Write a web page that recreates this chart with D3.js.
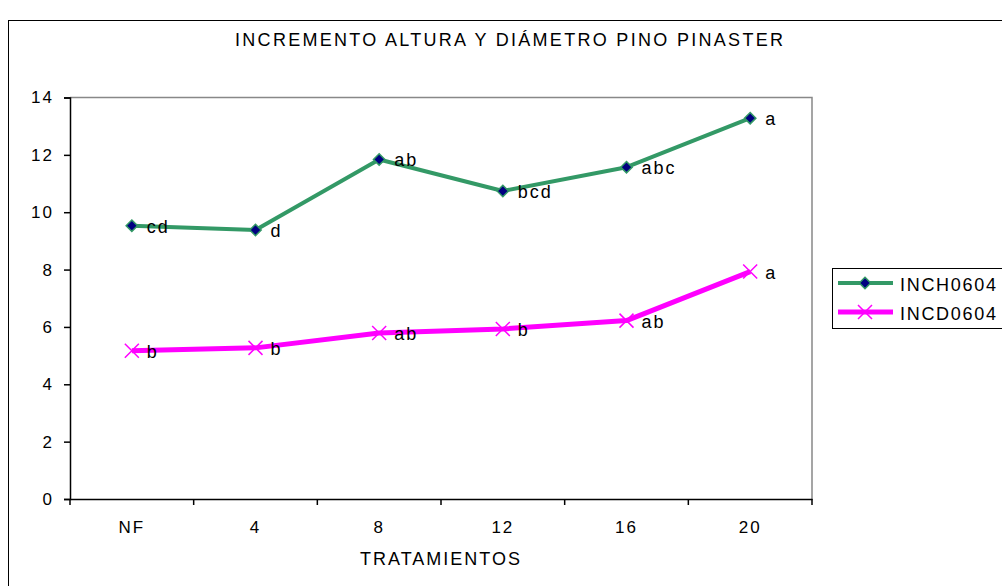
<!DOCTYPE html>
<html><head><meta charset="utf-8">
<script src="https://cdn.jsdelivr.net/npm/d3@7"></script>
<style>
html,body{margin:0;padding:0;background:#fff;}
svg{display:block;font-family:"Liberation Sans",Arial,sans-serif;}
</style></head>
<body>
<svg id="chart" width="1002" height="586"></svg>
<script>
const categories = ["NF","4","8","12","16","20"];
const inch0604 = [9.53, 9.38, 11.84, 10.74, 11.57, 13.28];
const incd0604 = [5.17, 5.27, 5.79, 5.93, 6.22, 7.93];
const inchLabels = ["cd","d","ab","bcd","abc","a"];
const incdLabels = ["b","b","ab","b","ab","a"];
const yTicks = [0,2,4,6,8,10,12,14];
const seriesNames = ["INCH0604","INCD0604"];

const svg = d3.select("#chart");
const L = 70, R = 812, T = 97.5, B = 499;

// outer chart border
svg.append("rect").attr("x",8.5).attr("y",20.5).attr("width",1100).attr("height",700)
  .attr("fill","none").attr("stroke","#000").attr("stroke-width",1);

const x = d3.scaleBand().domain(categories).range([L,R]);
const y = d3.scaleLinear().domain([0,14]).range([B,T]);

// plot border top & right (gray)
svg.append("path").attr("d",`M${L},${T}H${R}V${B}`).attr("fill","none")
  .attr("stroke","#888").attr("stroke-width",1.5);

// y axis
const yAxis = svg.append("g").attr("transform",`translate(${L},0)`)
  .call(d3.axisLeft(y).tickValues(yTicks).tickSize(6).tickPadding(10));
yAxis.selectAll("text").attr("font-size",17).attr("letter-spacing",2).attr("fill","#000")
  .attr("font-family","Liberation Sans, Arial, sans-serif");
yAxis.selectAll("line,path").attr("stroke","#000").attr("stroke-width",1.5);

// x axis
const xAxis = svg.append("g").attr("transform",`translate(0,${B})`)
  .call(d3.axisBottom(x).tickSize(0).tickPadding(21.5));
xAxis.selectAll("text").attr("font-size",17).attr("letter-spacing",2).attr("fill","#000")
  .attr("font-family","Liberation Sans, Arial, sans-serif");
xAxis.select("path").attr("stroke","#000").attr("stroke-width",1.5);
// boundary ticks between categories
const bounds = categories.map(c=>x(c)).concat([R]);
svg.append("g").selectAll("line").data(bounds).join("line")
  .attr("x1",d=>d).attr("x2",d=>d).attr("y1",B).attr("y2",B+6)
  .attr("stroke","#000").attr("stroke-width",1.5);

const cx = c => x(c) + x.bandwidth()/2;
const line = d3.line().x((d,i)=>cx(categories[i])).y(d=>y(d));

const green = "#339966", pink = "#ff00ff";

svg.append("path").datum(inch0604).attr("d",line).attr("fill","none")
  .attr("stroke",green).attr("stroke-width",4).attr("stroke-linejoin","round");
svg.append("path").datum(incd0604).attr("d",line).attr("fill","none")
  .attr("stroke",pink).attr("stroke-width",5).attr("stroke-linejoin","round");

const diamond = (g,px,py)=>g.append("path")
  .attr("d",`M${px},${py-5.7}L${px+5.7},${py}L${px},${py+5.7}L${px-5.7},${py}Z`)
  .attr("fill","#000080").attr("stroke",green).attr("stroke-width",1.5);
const cross = (g,px,py)=>g.append("path")
  .attr("d",`M${px-7},${py-7}L${px+7},${py+7}M${px-7},${py+7}L${px+7},${py-7}`)
  .attr("stroke",pink).attr("stroke-width",1.5).attr("fill","none");

const mk = svg.append("g");
inch0604.forEach((v,i)=>diamond(mk,cx(categories[i]),y(v)));
incd0604.forEach((v,i)=>cross(mk,cx(categories[i]),y(v)));

const lab = svg.append("g").attr("font-size",18).attr("letter-spacing",2).attr("fill","#000");
inch0604.forEach((v,i)=>lab.append("text").attr("x",cx(categories[i])+15).attr("y",y(v)+7).text(inchLabels[i]));
incd0604.forEach((v,i)=>lab.append("text").attr("x",cx(categories[i])+15).attr("y",y(v)+7).text(incdLabels[i]));

// title
svg.append("text").attr("x",509).attr("y",46).attr("text-anchor","middle")
  .attr("font-size",18).attr("fill","#000")
  .attr("textLength",548).attr("lengthAdjust","spacing")
  .text("INCREMENTO ALTURA Y DIÁMETRO PINO PINASTER");
// x axis title
svg.append("text").attr("x",441).attr("y",565).attr("text-anchor","middle")
  .attr("font-size",18).attr("letter-spacing",2).attr("fill","#000").text("TRATAMIENTOS");

// legend
const lg = svg.append("g");
lg.append("rect").attr("x",832.5).attr("y",268.5).attr("width",200).attr("height",60)
  .attr("fill","#fff").attr("stroke","#000").attr("stroke-width",1);
[0,1].forEach(i=>{
  const ly = 283 + i*29;
  lg.append("line").attr("x1",838).attr("x2",893).attr("y1",ly).attr("y2",ly)
    .attr("stroke",i===0?green:pink).attr("stroke-width",i===0?4:5);
  if(i===0) diamond(lg,865,ly); else cross(lg,865,ly);
  lg.append("text").attr("x",900).attr("y",ly+8).attr("font-size",18).attr("letter-spacing",1.7)
    .attr("fill","#000").text(seriesNames[i]);
});
</script>
</body></html>
